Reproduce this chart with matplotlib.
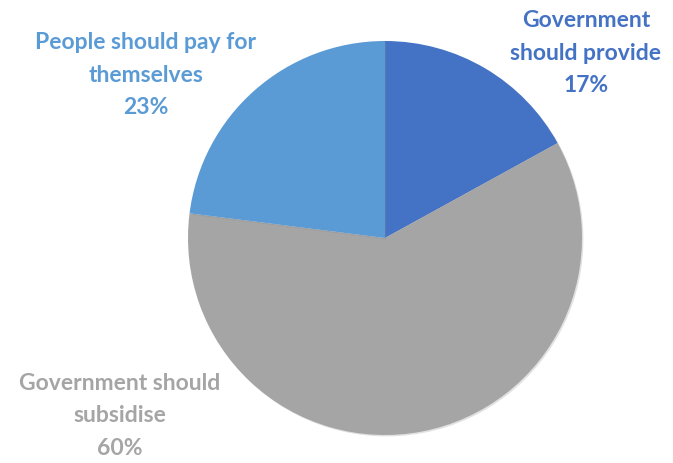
import matplotlib.pyplot as plt
import matplotlib.patheffects as pe

labels = ["Government\nshould provide", "Government should\nsubsidise", "People should pay for\nthemselves"]
shares = [17, 60, 23]
colors = ["#4472C4", "#A5A5A5", "#5B9BD5"]
# label block centres in pixel space (x, y from top)
label_pos = [(586, 53), (120, 416), (146, 75)]

W, H = 673, 463
fig = plt.figure(figsize=(W / 100, H / 100), dpi=100)
ax = fig.add_axes([0, 0, 1, 1])

wedges, _ = ax.pie(shares, colors=colors, startangle=90, counterclock=False,
                   center=(385, H - 238), radius=197, frame=True,
                   wedgeprops=dict(linewidth=0))
for w in wedges:
    w.set_path_effects([pe.SimplePatchShadow(offset=(1, -1), shadow_rgbFace="#888888", alpha=0.25),
                        pe.Normal()])
ax.set_xlim(0, W)
ax.set_ylim(0, H)
ax.set_aspect("equal")
ax.axis("off")

for lab, val, c, (x, y) in zip(labels, shares, colors, label_pos):
    ax.text(x, H - y, "{}\n{}%".format(lab, val), color=c, ha="center", va="center",
            fontsize=16.5, fontweight="bold", family="Lato", linespacing=1.65)

fig.savefig("out.png", dpi=100)
